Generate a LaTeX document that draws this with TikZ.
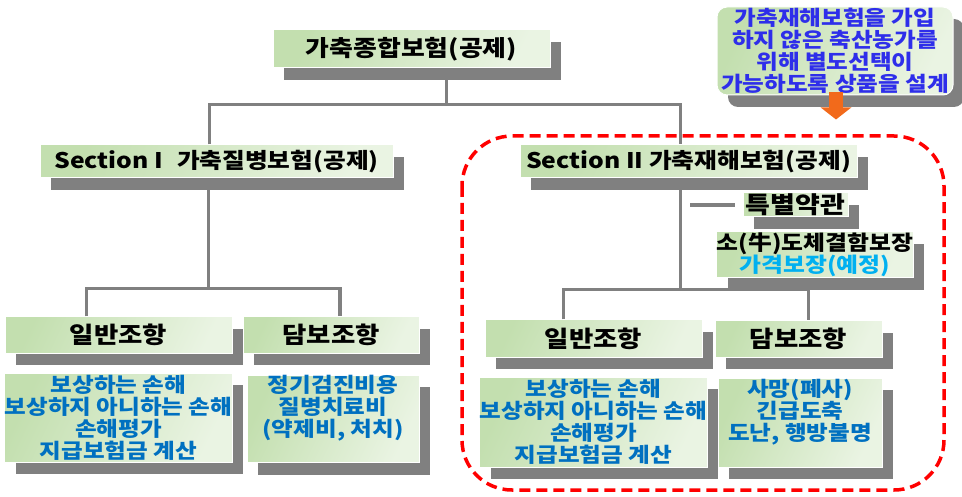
\documentclass[tikz,border=0pt]{standalone}
\usepackage{fontspec}
\setmainfont{Noto Sans CJK KR}
\newfontfamily\krheavy{Noto Sans CJK KR Black}[FakeStretch=1.15]
\usetikzlibrary{shadows,arrows.meta}

\definecolor{leafdark}{HTML}{C3DFAF}
\definecolor{leaflight}{HTML}{EAF4E3}
\definecolor{shadowgray}{HTML}{808080}
\definecolor{itemblue}{HTML}{0070C0}
\definecolor{noteblue}{HTML}{2E2EEA}
\definecolor{priceblue}{HTML}{00B0F0}
\definecolor{dashred}{HTML}{FF0000}
\definecolor{arroworange}{HTML}{F26A1B}

\tikzset{
  box/.style={draw=white, line width=1pt, left color=leafdark, right color=leaflight,
    shading angle=65, inner sep=0pt, align=center,
    drop shadow={shadow xshift=11pt, shadow yshift=-12pt, fill=shadowgray, opacity=1}},
  headbox/.style={box, font=\fontsize{23}{24}\selectfont\krheavy},
  itembox/.style={box, text=itemblue, font=\fontsize{20.5}{22}\selectfont\krheavy},
  link/.style={draw=shadowgray, line width=3.5pt},
}

\begin{document}
\begin{tikzpicture}[x=1pt, y=-1pt]
  \useasboundingbox (0,0) rectangle (962,497);

  % frame round section II
  \draw[dashred, line width=3.5pt, dash pattern=on 11pt off 6pt, rounded corners=50pt]
    (462,136) rectangle (944,490);

  % top
  \node[headbox, minimum width=277pt, minimum height=38pt, font=\fontsize{22.5}{24}\selectfont\krheavy]
    (total) at (411.5,49) {가축종합보험(공제)};

  \node[box, rounded corners=10pt, minimum width=236pt, minimum height=88pt, text=noteblue,
    font=\fontsize{20.5}{22}\selectfont\krheavy] (note) at (835,51)
    {가축재해보험을 가입\\하지 않은 축산농가를\\위해 별도선택이\\가능하도록 상품을 설계};
  \draw[arroworange, line width=14pt, -{Triangle[length=12pt, width=30pt]}]
    ([xshift=1pt, yshift=3pt]note.south) -- ++(0,27);

  % sections
  \node[headbox, minimum width=353pt, minimum height=33pt, font=\fontsize{21.5}{24}\selectfont\krheavy]
    (sec1) at (216.5,161.5) {Section I\hspace{14pt}가축질병보험(공제)};
  \node[headbox, minimum width=337pt, minimum height=33pt, font=\fontsize{21.5}{24}\selectfont\krheavy]
    (sec2) at (688.5,161.5) {Section II 가축재해보험(공제)};

  \draw[link] ([xshift=35pt]total.south) -- ++(0,37);
  \draw[link] ([xshift=-7pt]sec1.north) -- ++(0,-40) -| ([xshift=-8pt]sec2.north);

  % section I
  \node[headbox, minimum width=227pt, minimum height=36pt] (genA) at (118.5,335) {일반조항};
  \node[headbox, minimum width=176pt, minimum height=36pt] (covA) at (331,335) {담보조항};
  \node[itembox, minimum width=227pt, minimum height=89pt] (itemA) at (118.5,417.5)
    {보상하는 손해\\보상하지 아니하는 손해\\손해평가\\지급보험금 계산};
  \node[itembox, minimum width=172pt, minimum height=86pt, text depth=26pt] (itemB) at (333,419)
    {정기검진비용\\질병치료비\\(약제비, 처치)};

  \draw[link] ([xshift=-8pt]sec1.south) -- ++(0,112);
  \draw[link] ([xshift=-32pt]genA.north) -- ++(0,-28) -| ([xshift=9pt]covA.north);

  % section II
  \node[headbox, minimum width=105pt, minimum height=24pt, font=\fontsize{23.5}{24}\selectfont\krheavy]
    (spec) at (795.5,205) {특별약관};
  \node[headbox, minimum width=196pt, minimum height=46pt, font=\fontsize{20.7}{22}\selectfont\krheavy]
    (beef) at (815,255) {소(牛)도체결함보장\\\textcolor{priceblue}{가격보장(예정)}};
  \node[headbox, minimum width=217pt, minimum height=37pt] (genB) at (593.5,338.5) {일반조항};
  \node[headbox, minimum width=167pt, minimum height=36pt] (covB) at (798.5,339) {담보조항};
  \node[itembox, minimum width=217pt, minimum height=90pt] (itemC) at (593.5,422)
    {보상하는 손해\\보상하지 아니하는 손해\\손해평가\\지급보험금 계산};
  \node[itembox, minimum width=164pt, minimum height=89pt, text depth=26pt] (itemD) at (800,422.5)
    {사망(폐사)\\긴급도축\\도난, 행방불명};

  \draw[link] ([xshift=-8pt]sec2.south) -- ++(0,112);
  \draw[link] ([xshift=-8pt]spec.west) -- ++(-45,0);
  \draw[link] ([xshift=-30pt]genB.north) -- ++(0,-30) -| ([xshift=10pt]covB.north);
\end{tikzpicture}
\end{document}
